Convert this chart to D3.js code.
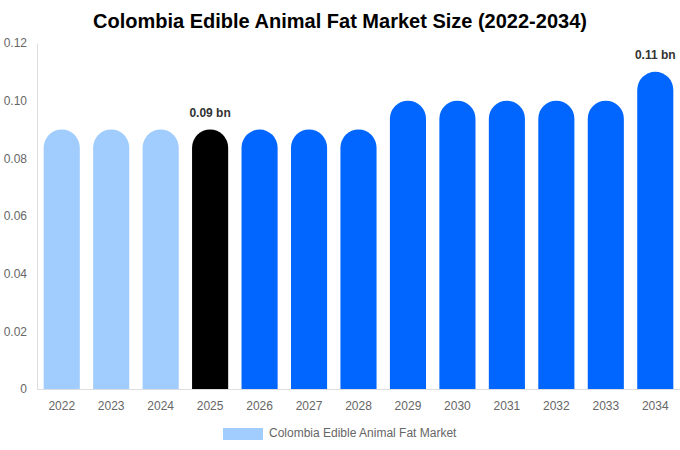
<!DOCTYPE html>
<html>
<head>
<meta charset="utf-8">
<script src="https://cdn.jsdelivr.net/npm/d3@7"></script>
<style>
  body { margin: 0; background: #fff; font-family: "Liberation Sans", Arial, sans-serif; }
</style>
</head>
<body>
<div id="wrapper"></div>
<script>
const years = ["2022","2023","2024","2025","2026","2027","2028","2029","2030","2031","2032","2033","2034"]
const values = [0.09,0.09,0.09,0.09,0.09,0.09,0.09,0.10,0.10,0.10,0.10,0.10,0.11]
const yTicks = [0,0.02,0.04,0.06,0.08,0.10,0.12]
// which bars get the value label
const labelled = ["2025","2034"]
const seriesName = "Colombia Edible Animal Fat Market"

const width = 680, height = 450
const margin = {top: 43, right: 0, bottom: 61, left: 37}

const svg = d3.select("#wrapper")
    .append("svg")
        .attr("width", width)
        .attr("height", height)

svg.append("text")
    .attr("x", width / 2)
    .attr("y", 28)
    .attr("text-anchor", "middle")
    .attr("font-size", 20)
    .attr("font-weight", "bold")
    .attr("fill", "#000")
    .text("Colombia Edible Animal Fat Market Size (2022-2034)")

const x = d3.scaleBand()
    .domain(years)
    .range([margin.left, width - margin.right])
    .paddingInner(0.27)
    .paddingOuter(0.135)

const y = d3.scaleLinear()
    .domain([0, 0.12])
    .range([height - margin.bottom, margin.top])

function barColor(yr) {
    if (+yr < 2025) return "#a0cdfd"
    if (+yr === 2025) return "#000000"
    return "#0066ff"
}

// bar with fully rounded top
function barPath(d, i) {
    const x0 = x(years[i]), w = x.bandwidth(), r = w / 2
    const top = y(d), base = y(0)
    return `M${x0},${base} L${x0},${top + r} A${r},${r} 0 0 1 ${x0 + w},${top + r} L${x0 + w},${base} Z`
}

svg.append("g")
    .selectAll("path")
    .data(values)
    .join("path")
    .attr("d", barPath)
    .attr("fill", (d, i) => barColor(years[i]))

svg.append("g")
    .selectAll("text")
    .data(values.map((v, i) => ({v, yr: years[i]})).filter(d => labelled.includes(d.yr)))
    .join("text")
    .attr("x", d => x(d.yr) + x.bandwidth() / 2)
    .attr("y", d => y(d.v) - 13)
    .attr("text-anchor", "middle")
    .attr("font-size", 12)
    .attr("font-weight", "bold")
    .attr("fill", "#333")
    .text(d => d.v.toFixed(2) + " bn")

// axes
const yAxis = svg.append("g")
    .attr("transform", `translate(${margin.left},0)`)
    .call(d3.axisLeft(y).tickValues(yTicks).tickSize(0).tickPadding(10)
        .tickFormat(d => d === 0 ? "0" : d.toFixed(2)))
yAxis.select(".domain").attr("stroke", "#ddd")
yAxis.selectAll("text").attr("font-size", 12).attr("fill", "#666")
    .attr("font-family", "Liberation Sans, Arial, sans-serif")

const xAxis = svg.append("g")
    .attr("transform", `translate(0,${y(0)})`)
    .call(d3.axisBottom(x).tickSize(0).tickPadding(12))
xAxis.select(".domain").attr("stroke", "#ddd")
xAxis.selectAll("text").attr("font-size", 12).attr("fill", "#666")
    .attr("font-family", "Liberation Sans, Arial, sans-serif")

// legend
const legend = svg.append("g")
legend.append("rect")
    .attr("x", 223)
    .attr("y", 428)
    .attr("width", 40)
    .attr("height", 12)
    .attr("fill", "#a0cdfd")
legend.append("text")
    .attr("x", 269)
    .attr("y", 437)
    .attr("font-size", 12)
    .attr("fill", "#666")
    .text(seriesName)
</script>
</body>
</html>
